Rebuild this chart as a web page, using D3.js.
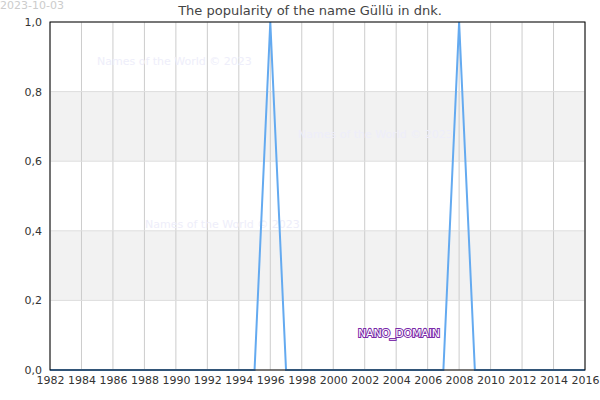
<!DOCTYPE html><html><head><meta charset="utf-8"><script src="https://cdn.jsdelivr.net/npm/d3@7"></script>
<style>body{margin:0;background:#fff}text{font-family:"DejaVu Sans",sans-serif}</style></head><body><svg id="c" width="600" height="400"></svg>
<script>
const years = d3.range(1982, 2017);
const values = years.map(y => (y === 1996 || y === 2008) ? 1 : 0);
const xTicks = d3.range(1982, 2017, 2);
const yTicks = [0, 0.2, 0.4, 0.6, 0.8, 1.0];
const svg = d3.select("#c");
const L=50,R=585,T=22,B=370;
const x = d3.scaleLinear().domain([1982,2016]).range([L,R]);
const y = d3.scaleLinear().domain([0,1]).range([B,T]);
[[0.2,0.4],[0.6,0.8]].forEach(b=>svg.append("rect").attr("x",L).attr("width",R-L).attr("y",y(b[1])).attr("height",y(b[0])-y(b[1])).attr("fill","#f2f2f2"));
xTicks.forEach(t=>svg.append("line").attr("x1",x(t)).attr("x2",x(t)).attr("y1",T).attr("y2",B).attr("stroke","#ccc"));
yTicks.forEach(t=>svg.append("line").attr("x1",L).attr("x2",R).attr("y1",y(t)).attr("y2",y(t)).attr("stroke","#ddd"));
const wm=[[97,61],[298,134],[145,224]];
wm.forEach(p=>svg.append("text").attr("x",p[0]).attr("y",p[1]+4).attr("font-size",11).attr("fill","#eeeefa").text("Names of the World © 2023"));
svg.append("path").datum(years).attr("fill","none").attr("stroke","#64aaf0").attr("stroke-width",2)
 .attr("d",d3.line().x((d,i)=>x(d)).y((d,i)=>y(values[i])));
svg.append("rect").attr("x",L).attr("y",T).attr("width",R-L).attr("height",B-T).attr("fill","none").attr("stroke","#000");
svg.append("g").attr("transform",`translate(0,${B})`).call(d3.axisBottom(x).tickValues(xTicks).tickFormat(d3.format("d")).tickSize(0).tickPadding(6))
 .call(g=>{g.select(".domain").remove();g.selectAll("text").attr("font-size",11).attr("fill","#333").attr("font-family","DejaVu Sans");});
svg.append("g").attr("transform",`translate(${L},0)`).call(d3.axisLeft(y).tickValues(yTicks).tickFormat(d=>d3.format(".1f")(d).replace(".",",")).tickSize(0).tickPadding(8))
 .call(g=>{g.select(".domain").remove();g.selectAll("text").attr("font-size",11).attr("fill","#333").attr("font-family","DejaVu Sans");});
svg.append("text").attr("x",310).attr("y",15).attr("text-anchor","middle").attr("font-size",13).attr("fill","#444").text("The popularity of the name Güllü in dnk.");
svg.append("text").attr("x",0).attr("y",9).attr("font-size",11).attr("fill","#ccc").text("2023-10-03");
svg.append("text").attr("x",358).attr("y",337).attr("font-size",11).attr("fill","#fff").attr("stroke","#7a2aa8").attr("stroke-width",2).attr("paint-order","stroke").attr("textLength",82).text("NANO_DOMAIN");
</script></body></html>
